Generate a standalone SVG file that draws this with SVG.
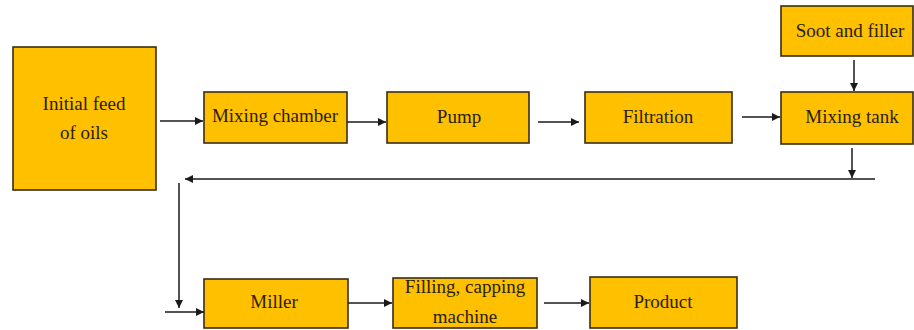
<svg xmlns="http://www.w3.org/2000/svg" width="914" height="330" viewBox="0 0 914 330">
<style>
.box{fill:#FFC000;stroke:#3a2c14;stroke-width:1.6}
.t{font-family:'Liberation Serif','Tinos','DejaVu Serif','Times New Roman',Times,serif;font-size:19px;fill:#2b1d05;text-anchor:middle}
.c{stroke:#1a1a1a;stroke-width:1.5;fill:none}
</style>
<defs>
<marker id="ah" viewBox="0 0 10 10" refX="10" refY="5" markerWidth="10" markerHeight="8" markerUnits="userSpaceOnUse" orient="auto">
<path d="M0,0 L10,5 L0,10 Z" fill="#1a1a1a"/>
</marker>
</defs>
<rect width="914" height="330" fill="#ffffff"/>
<g id="initial-feed">
<rect class="box" x="13" y="47" width="143" height="143"/>
<text class="t" x="84" y="110" font-family="Liberation Serif, serif">Initial feed</text>
<text class="t" x="84" y="139" font-family="Liberation Serif, serif">of oils</text>
</g>
<g id="mixing-chamber">
<rect class="box" x="204" y="92" width="143" height="51"/>
<text class="t" x="275" y="122">Mixing chamber</text>
</g>
<g id="pump">
<rect class="box" x="387" y="92" width="142" height="51"/>
<text class="t" x="459" y="123">Pump</text>
</g>
<g id="filtration">
<rect class="box" x="585" y="92" width="147" height="51"/>
<text class="t" x="658" y="123">Filtration</text>
</g>
<g id="soot-filler">
<rect class="box" x="781" y="6" width="132" height="50"/>
<text class="t" x="850" y="37">Soot and filler</text>
</g>
<g id="mixing-tank">
<rect class="box" x="781" y="92" width="132" height="52"/>
<text class="t" x="852" y="123">Mixing tank</text>
</g>
<g id="miller">
<rect class="box" x="204" y="279" width="144" height="49"/>
<text class="t" x="274" y="308">Miller</text>
</g>
<g id="filling-capping">
<rect class="box" x="393" y="278" width="144" height="50"/>
<text class="t" x="465" y="293">Filling, capping</text>
<text class="t" x="465" y="323">machine</text>
</g>
<g id="product">
<rect class="box" x="590" y="277" width="147" height="51"/>
<text class="t" x="663" y="308">Product</text>
</g>
<g id="connectors">
<line class="c" x1="160" y1="121" x2="203" y2="121" marker-end="url(#ah)"/>
<line class="c" x1="347" y1="122" x2="386" y2="122" marker-end="url(#ah)"/>
<line class="c" x1="538" y1="122" x2="579" y2="122" marker-end="url(#ah)"/>
<line class="c" x1="742" y1="117" x2="780" y2="117" marker-end="url(#ah)"/>
<line class="c" x1="854" y1="60" x2="854" y2="91" marker-end="url(#ah)"/>
<line class="c" x1="852" y1="148" x2="852" y2="178" marker-end="url(#ah)"/>
<line class="c" x1="875" y1="179" x2="185" y2="179" marker-end="url(#ah)"/>
<line class="c" x1="179" y1="183" x2="179" y2="308" marker-end="url(#ah)"/>
<line class="c" x1="165" y1="312" x2="204" y2="312" marker-end="url(#ah)"/>
<line class="c" x1="348" y1="303" x2="392" y2="303" marker-end="url(#ah)"/>
<line class="c" x1="544" y1="303" x2="589" y2="303" marker-end="url(#ah)"/>
</g>
</svg>
